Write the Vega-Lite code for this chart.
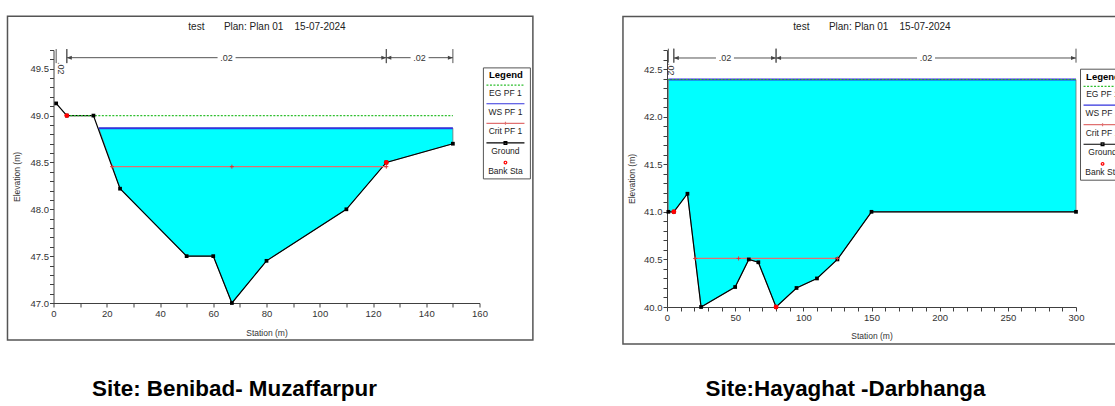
{
  "$schema": "https://vega.github.io/schema/vega-lite/v6.json",
  "padding": {"left": 6.5, "top": 15, "right": 0, "bottom": 0},
  "background": "white",
  "spacing": 87.5,
  "resolve": {
    "scale": {"color": "independent", "shape": "independent", "strokeDash": "independent"},
    "legend": {"color": "independent", "shape": "independent", "strokeDash": "independent"}
  },
  "config": {
    "view": {"stroke": null},
    "font": "Liberation Sans"
  },
  "datasets": {
    "legend_items": [
      {"series": "EG PF 1"}, {"series": "WS PF 1"}, {"series": "Crit PF 1"}, {"series": "Ground"}, {"series": "Bank Sta"}
    ],
    "left_ground": [
      {"station": 1, "elev": 49.13}, {"station": 5, "elev": 49.0}, {"station": 15, "elev": 49.0},
      {"station": 25, "elev": 48.22}, {"station": 50, "elev": 47.5}, {"station": 60, "elev": 47.5},
      {"station": 67, "elev": 47.0}, {"station": 80, "elev": 47.45}, {"station": 110, "elev": 48.0},
      {"station": 125, "elev": 48.5}, {"station": 150, "elev": 48.7}
    ],
    "left_water": [
      {"station": 17, "elev": 48.865}, {"station": 25, "elev": 48.22}, {"station": 50, "elev": 47.5},
      {"station": 60, "elev": 47.5}, {"station": 67, "elev": 47.0}, {"station": 80, "elev": 47.45},
      {"station": 110, "elev": 48.0}, {"station": 125, "elev": 48.5}, {"station": 150, "elev": 48.7}
    ],
    "left_profiles": [
      {"series": "WS PF 1", "from": 17, "to": 150, "elev": 48.865},
      {"series": "EG PF 1", "from": 5, "to": 150, "elev": 49.0},
      {"series": "Crit PF 1", "from": 22, "to": 125, "elev": 48.455}
    ],
    "left_crit": [
      {"station": 22, "elev": 48.455}, {"station": 67, "elev": 48.455}, {"station": 125, "elev": 48.455}
    ],
    "left_bank": [
      {"station": 5, "elev": 49.0}, {"station": 125, "elev": 48.5}
    ],
    "left_n": [
      {"id": 1, "from": 1, "to": 5, "n": ".02"},
      {"id": 2, "from": 5, "to": 125, "n": ".02"},
      {"id": 3, "from": 125, "to": 150, "n": ".02"}
    ],
    "right_ground": [
      {"station": 1, "elev": 41.0}, {"station": 5, "elev": 41.0}, {"station": 15, "elev": 41.19},
      {"station": 25, "elev": 40.0}, {"station": 50, "elev": 40.21}, {"station": 60, "elev": 40.5},
      {"station": 67, "elev": 40.47}, {"station": 80, "elev": 40.0}, {"station": 95, "elev": 40.2},
      {"station": 110, "elev": 40.3}, {"station": 125, "elev": 40.5}, {"station": 150, "elev": 41.0},
      {"station": 300, "elev": 41.0}
    ],
    "right_profiles": [
      {"series": "WS PF 1", "from": 1, "to": 300, "elev": 42.39},
      {"series": "EG PF 1", "from": 1, "to": 300, "elev": 42.39},
      {"series": "Crit PF 1", "from": 20.7, "to": 125, "elev": 40.51}
    ],
    "right_crit": [
      {"station": 20.7, "elev": 40.51}, {"station": 52.5, "elev": 40.51}, {"station": 125, "elev": 40.51}
    ],
    "right_bank": [
      {"station": 5, "elev": 41.0}, {"station": 80, "elev": 40.0}
    ],
    "right_n": [
      {"id": 1, "from": 1, "to": 5, "n": ".02"},
      {"id": 2, "from": 5, "to": 80, "n": ".02"},
      {"id": 3, "from": 80, "to": 300, "n": ".02"}
    ]
  },
  "hconcat": [
    {
      "width": 426,
      "height": 253,
      "title": {"text": "Site: Benibad- Muzaffarpur", "orient": "bottom", "anchor": "middle", "frame": "group", "dx": -32, "offset": 55, "baseline": "alphabetic", "fontSize": 22.4, "fontWeight": "bold", "font": "Liberation Sans", "color": "#000000"},
      "resolve": {"axis": {"x": "independent", "y": "independent"}},
      "layer": [
        {
          "data": {"name": "legend_items"},
          "mark": {"type": "point", "filled": false, "opacity": 0, "size": 4, "strokeWidth": 1.2},
          "encoding": {
            "x": {
              "datum": 80, "type": "quantitative",
              "axis": {"orient": "top", "domain": false, "ticks": false, "labels": false, "grid": false,
                "title": "test\u00a0\u00a0\u00a0\u00a0\u00a0\u00a0\u00a0Plan: Plan 01\u00a0\u00a0\u00a0\u00a015-07-2024",
                "titleY": -20.8, "titleBaseline": "alphabetic", "titleFontSize": 10, "titleFontWeight": "normal", "titleColor": "#222222"}
            },
            "color": {
              "field": "series", "type": "nominal",
              "scale": {"domain": ["EG PF 1", "WS PF 1", "Crit PF 1", "Ground", "Bank Sta"], "range": ["#2fbf2f", "#3333dd", "#e07070", "#000000", "#ff0000"]},
              "legend": {
                "orient": "none", "legendX": 429.4, "legendY": 17.4, "direction": "vertical",
                "title": "Legend", "titleFontSize": 9.5, "titleFontWeight": "bold", "titleAnchor": "middle", "titlePadding": 5, "titleColor": "#000000",
                "strokeColor": "#555555", "padding": 3,
                "symbolSize": 4, "symbolStrokeWidth": 1.2, "symbolOpacity": 1, "symbolOffset": 15.3,
                "labelAlign": "center", "labelBaseline": "top", "labelOffset": -4.3, "labelFontSize": 8.5, "labelColor": "#222222",
                "rowPadding": 2.6
              }
            },
            "shape": {
              "field": "series", "type": "nominal",
              "scale": {"domain": ["EG PF 1", "WS PF 1", "Crit PF 1", "Ground", "Bank Sta"],
                "range": ["M-19,-4H19", "M-19,-4H19", "M-19,-4H19M-1.5,-4H1.5M0,-5.5V-2.5", "M-19,-4H19M-1.4,-5.4H1.4V-2.6H-1.4Z", "M-1.3,-4A1.3,1.3,0,1,1,1.3,-4A1.3,1.3,0,1,1,-1.3,-4Z"]}
            },
            "strokeDash": {
              "field": "series", "type": "nominal",
              "scale": {"domain": ["EG PF 1", "WS PF 1", "Crit PF 1", "Ground", "Bank Sta"], "range": [[2, 1.5], [1, 0], [1, 0], [1, 0], [1, 0]]}
            }
          }
        },
        {
          "data": {"values": [{}]},
          "mark": {"type": "rect", "fill": null, "stroke": "#555555", "strokeWidth": 1.5},
          "encoding": {
            "x": {"datum": -17.28, "type": "quantitative", "axis": null},
            "x2": {"datum": 180.05},
            "y": {"datum": 50.059, "type": "quantitative", "axis": null},
            "y2": {"datum": 46.605}
          }
        },
        {
          "data": {"name": "left_water"},
          "mark": {"type": "area", "color": "#00ffff", "stroke": "#707070", "strokeWidth": 0.8, "opacity": 1},
          "encoding": {
            "x": {"field": "station", "type": "quantitative", "axis": null},
            "y": {"field": "elev", "type": "quantitative", "axis": null},
            "y2": {"datum": 48.865}
          }
        },
        {
          "data": {"name": "left_ground"},
          "mark": {"type": "line", "color": "#000000", "strokeWidth": 1.2},
          "encoding": {
            "x": {
              "field": "station", "type": "quantitative",
              "scale": {"domain": [0, 160], "nice": false, "zero": false},
              "axis": {
                "orient": "bottom", "values": [0, 10, 20, 30, 40, 50, 60, 70, 80, 90, 100, 110, 120, 130, 140, 150, 160],
                "format": "d", "labelExpr": "datum.value % 20 == 0 ? datum.label : ''",
                "grid": false, "tickSize": 4, "domainColor": "#404040", "tickColor": "#404040",
                "labelFontSize": 9.5, "labelColor": "#333333", "labelPadding": 1, "labelFlush": false, "labelOverlap": false,
                "title": "Station (m)", "titleFontSize": 8.5, "titleFontWeight": "normal", "titleColor": "#333333",
                "titleY": 29, "titleBaseline": "middle"
              }
            },
            "y": {
              "field": "elev", "type": "quantitative",
              "scale": {"domain": [47, 49.7], "nice": false, "zero": false},
              "axis": {
                "orient": "left",
                "values": [47.0, 47.1, 47.2, 47.3, 47.4, 47.5, 47.6, 47.7, 47.8, 47.9, 48.0, 48.1, 48.2, 48.3, 48.4, 48.5, 48.6, 48.7, 48.8, 48.9, 49.0, 49.1, 49.2, 49.3, 49.4, 49.5, 49.6, 49.7],
                "format": ".1f", "labelExpr": "round(datum.value * 10) % 5 == 0 ? datum.label : ''",
                "grid": false, "tickSize": 4, "domainColor": "#404040", "tickColor": "#404040",
                "labelFontSize": 9.5, "labelColor": "#333333", "labelPadding": 1, "labelFlush": false, "labelOverlap": false,
                "title": "Elevation (m)", "titleFontSize": 8.5, "titleFontWeight": "normal", "titleColor": "#333333",
                "titleX": -37, "titleBaseline": "middle"
              }
            }
          }
        },
        {
          "data": {"name": "left_profiles"},
          "mark": {"type": "rule"},
          "encoding": {
            "x": {"field": "from", "type": "quantitative", "axis": null},
            "x2": {"field": "to"},
            "y": {"field": "elev", "type": "quantitative", "axis": null},
            "color": {"field": "series", "type": "nominal", "scale": {"domain": ["EG PF 1", "WS PF 1", "Crit PF 1", "Ground", "Bank Sta"], "range": ["#2fbf2f", "#3333dd", "#e07070", "#000000", "#ff0000"]}},
            "strokeDash": {"field": "series", "type": "nominal", "scale": {"domain": ["EG PF 1", "WS PF 1", "Crit PF 1", "Ground", "Bank Sta"], "range": [[2, 1.5], [1, 0], [1, 0], [1, 0], [1, 0]]}},
            "strokeWidth": {"condition": {"test": "datum.series == 'WS PF 1'", "value": 2}, "value": 1.2}
          }
        },
        {
          "data": {"name": "left_ground"},
          "mark": {"type": "point", "shape": "square", "filled": true, "size": 14, "color": "#000000", "opacity": 1},
          "encoding": {
            "x": {"field": "station", "type": "quantitative", "axis": null},
            "y": {"field": "elev", "type": "quantitative", "axis": null}
          }
        },
        {
          "data": {"name": "left_crit"},
          "mark": {"type": "point", "shape": "M-2,0H2M0,-2V2", "filled": false, "size": 4, "color": "#e03030", "strokeWidth": 1, "opacity": 1},
          "encoding": {
            "x": {"field": "station", "type": "quantitative", "axis": null},
            "y": {"field": "elev", "type": "quantitative", "axis": null}
          }
        },
        {
          "data": {"name": "left_bank"},
          "mark": {"type": "point", "shape": "circle", "filled": true, "size": 24, "color": "#ff0000", "opacity": 1},
          "encoding": {
            "x": {"field": "station", "type": "quantitative", "axis": null},
            "y": {"field": "elev", "type": "quantitative", "axis": null}
          }
        },
        {
          "data": {"name": "left_n"},
          "layer": [
            {
              "mark": {"type": "rule", "color": "#555555", "strokeWidth": 1},
              "encoding": {
                "x": {"field": "from", "type": "quantitative", "axis": null},
                "y": {"datum": 49.56, "type": "quantitative", "axis": null},
                "y2": {"datum": 49.71}
              }
            },
            {
              "mark": {"type": "rule", "color": "#555555", "strokeWidth": 1},
              "encoding": {
                "x": {"field": "to", "type": "quantitative", "axis": null},
                "y": {"datum": 49.56, "type": "quantitative", "axis": null},
                "y2": {"datum": 49.71}
              }
            },
            {
              "transform": [{"filter": "datum.to - datum.from >= 10"}],
              "layer": [
                {
                  "mark": {"type": "rule", "color": "#555555", "strokeWidth": 1},
                  "encoding": {
                    "x": {"field": "from", "type": "quantitative", "axis": null},
                    "x2": {"field": "to"},
                    "y": {"datum": 49.618, "type": "quantitative", "axis": null}
                  }
                },
                {
                  "mark": {"type": "point", "shape": "M0,0L5,-2L5,2Z", "filled": true, "size": 4, "color": "#444444", "opacity": 1},
                  "encoding": {
                    "x": {"field": "from", "type": "quantitative", "axis": null},
                    "y": {"datum": 49.618, "type": "quantitative", "axis": null}
                  }
                },
                {
                  "mark": {"type": "point", "shape": "M0,0L-5,-2L-5,2Z", "filled": true, "size": 4, "color": "#444444", "opacity": 1},
                  "encoding": {
                    "x": {"field": "to", "type": "quantitative", "axis": null},
                    "y": {"datum": 49.618, "type": "quantitative", "axis": null}
                  }
                },
                {
                  "transform": [{"fold": ["from", "to"], "as": ["end", "station"]}],
                  "encoding": {
                    "x": {"aggregate": "mean", "field": "station", "type": "quantitative", "axis": null},
                    "y": {"datum": 49.618, "type": "quantitative", "axis": null},
                    "detail": {"field": "id", "type": "nominal"}
                  },
                  "layer": [
                    {"mark": {"type": "point", "shape": "M-9,-4.5H9V4.5H-9Z", "filled": true, "size": 4, "color": "#ffffff", "opacity": 1}},
                    {"mark": {"type": "text", "fontSize": 9, "color": "#333333", "baseline": "middle", "align": "center"}, "encoding": {"text": {"field": "n"}}}
                  ]
                }
              ]
            },
            {
              "transform": [{"filter": "datum.to - datum.from < 10"}, {"fold": ["from", "to"], "as": ["end", "station"]}],
              "mark": {"type": "text", "angle": 90, "fontSize": 9, "color": "#333333", "baseline": "middle", "align": "center"},
              "encoding": {
                "x": {"aggregate": "mean", "field": "station", "type": "quantitative", "axis": null},
                "y": {"datum": 49.504, "type": "quantitative", "axis": null},
                "detail": {"field": "id", "type": "nominal"},
                "text": {"field": "n"}
              }
            }
          ]
        }
      ]
    },
    {
      "width": 409,
      "height": 257,
      "title": {"text": "Site:Hayaghat -Darbhanga", "orient": "bottom", "anchor": "middle", "frame": "group", "dx": -26, "offset": 51, "baseline": "alphabetic", "fontSize": 22.4, "fontWeight": "bold", "font": "Liberation Sans", "color": "#000000"},
      "resolve": {"axis": {"x": "independent", "y": "independent"}},
      "layer": [
        {
          "data": {"name": "legend_items"},
          "mark": {"type": "point", "filled": false, "opacity": 0, "size": 4, "strokeWidth": 1.2},
          "encoding": {
            "x": {
              "datum": 150, "type": "quantitative",
              "axis": {"orient": "top", "domain": false, "ticks": false, "labels": false, "grid": false,
                "title": "test\u00a0\u00a0\u00a0\u00a0\u00a0\u00a0\u00a0Plan: Plan 01\u00a0\u00a0\u00a0\u00a015-07-2024",
                "titleY": -20.8, "titleBaseline": "alphabetic", "titleFontSize": 10, "titleFontWeight": "normal", "titleColor": "#222222"}
            },
            "color": {
              "field": "series", "type": "nominal",
              "scale": {"domain": ["EG PF 1", "WS PF 1", "Crit PF 1", "Ground", "Bank Sta"], "range": ["#2fbf2f", "#3333dd", "#e07070", "#000000", "#ff0000"]},
              "legend": {
                "orient": "none", "legendX": 413, "legendY": 18.7, "direction": "vertical",
                "title": "Legend", "titleFontSize": 9.5, "titleFontWeight": "bold", "titleAnchor": "middle", "titlePadding": 5, "titleColor": "#000000",
                "strokeColor": "#555555", "padding": 3,
                "symbolSize": 4, "symbolStrokeWidth": 1.2, "symbolOpacity": 1, "symbolOffset": 15.3,
                "labelAlign": "center", "labelBaseline": "top", "labelOffset": -4.3, "labelFontSize": 8.5, "labelColor": "#222222",
                "rowPadding": 2.6
              }
            },
            "shape": {
              "field": "series", "type": "nominal",
              "scale": {"domain": ["EG PF 1", "WS PF 1", "Crit PF 1", "Ground", "Bank Sta"],
                "range": ["M-19,-4H19", "M-19,-4H19", "M-19,-4H19M-1.5,-4H1.5M0,-5.5V-2.5", "M-19,-4H19M-1.4,-5.4H1.4V-2.6H-1.4Z", "M-1.3,-4A1.3,1.3,0,1,1,1.3,-4A1.3,1.3,0,1,1,-1.3,-4Z"]}
            },
            "strokeDash": {
              "field": "series", "type": "nominal",
              "scale": {"domain": ["EG PF 1", "WS PF 1", "Crit PF 1", "Ground", "Bank Sta"], "range": [[2, 1.5], [1, 0], [1, 0], [1, 0], [1, 0]]}
            }
          }
        },
        {
          "data": {"values": [{}]},
          "mark": {"type": "rect", "fill": null, "stroke": "#555555", "strokeWidth": 1.5},
          "encoding": {
            "x": {"datum": -32.3, "type": "quantitative", "axis": null},
            "x2": {"datum": 337.3},
            "y": {"datum": 43.053, "type": "quantitative", "axis": null},
            "y2": {"datum": 39.611}
          }
        },
        {
          "data": {"name": "right_ground"},
          "mark": {"type": "area", "color": "#00ffff", "stroke": "#707070", "strokeWidth": 0.8, "opacity": 1},
          "encoding": {
            "x": {"field": "station", "type": "quantitative", "axis": null},
            "y": {"field": "elev", "type": "quantitative", "axis": null},
            "y2": {"datum": 42.39}
          }
        },
        {
          "data": {"name": "right_ground"},
          "mark": {"type": "line", "color": "#000000", "strokeWidth": 1.2},
          "encoding": {
            "x": {
              "field": "station", "type": "quantitative",
              "scale": {"domain": [0, 300], "nice": false, "zero": false},
              "axis": {
                "orient": "bottom", "values": [0, 10, 20, 30, 40, 50, 60, 70, 80, 90, 100, 110, 120, 130, 140, 150, 160, 170, 180, 190, 200, 210, 220, 230, 240, 250, 260, 270, 280, 290, 300],
                "format": "d", "labelExpr": "datum.value % 50 == 0 ? datum.label : ''",
                "grid": false, "tickSize": 4, "domainColor": "#404040", "tickColor": "#404040",
                "labelFontSize": 9.5, "labelColor": "#333333", "labelPadding": 1, "labelFlush": false, "labelOverlap": false,
                "title": "Station (m)", "titleFontSize": 8.5, "titleFontWeight": "normal", "titleColor": "#333333",
                "titleY": 28.6, "titleBaseline": "middle"
              }
            },
            "y": {
              "field": "elev", "type": "quantitative",
              "scale": {"domain": [40, 42.7], "nice": false, "zero": false},
              "axis": {
                "orient": "left",
                "values": [40.0, 40.1, 40.2, 40.3, 40.4, 40.5, 40.6, 40.7, 40.8, 40.9, 41.0, 41.1, 41.2, 41.3, 41.4, 41.5, 41.6, 41.7, 41.8, 41.9, 42.0, 42.1, 42.2, 42.3, 42.4, 42.5, 42.6, 42.7],
                "format": ".1f", "labelExpr": "round(datum.value * 10) % 5 == 0 ? datum.label : ''",
                "grid": false, "tickSize": 4, "domainColor": "#404040", "tickColor": "#404040",
                "labelFontSize": 9.5, "labelColor": "#333333", "labelPadding": 1, "labelFlush": false, "labelOverlap": false,
                "title": "Elevation (m)", "titleFontSize": 8.5, "titleFontWeight": "normal", "titleColor": "#333333",
                "titleX": -35.7, "titleBaseline": "middle"
              }
            }
          }
        },
        {
          "data": {"name": "right_profiles"},
          "mark": {"type": "rule"},
          "encoding": {
            "x": {"field": "from", "type": "quantitative", "axis": null},
            "x2": {"field": "to"},
            "y": {"field": "elev", "type": "quantitative", "axis": null},
            "color": {"field": "series", "type": "nominal", "scale": {"domain": ["EG PF 1", "WS PF 1", "Crit PF 1", "Ground", "Bank Sta"], "range": ["#2fbf2f", "#3333dd", "#e07070", "#000000", "#ff0000"]}},
            "strokeDash": {"field": "series", "type": "nominal", "scale": {"domain": ["EG PF 1", "WS PF 1", "Crit PF 1", "Ground", "Bank Sta"], "range": [[2, 1.5], [1, 0], [1, 0], [1, 0], [1, 0]]}},
            "strokeWidth": {"condition": {"test": "datum.series == 'WS PF 1'", "value": 2}, "value": 1.2}
          }
        },
        {
          "data": {"name": "right_ground"},
          "mark": {"type": "point", "shape": "square", "filled": true, "size": 14, "color": "#000000", "opacity": 1},
          "encoding": {
            "x": {"field": "station", "type": "quantitative", "axis": null},
            "y": {"field": "elev", "type": "quantitative", "axis": null}
          }
        },
        {
          "data": {"name": "right_crit"},
          "mark": {"type": "point", "shape": "M-2,0H2M0,-2V2", "filled": false, "size": 4, "color": "#e03030", "strokeWidth": 1, "opacity": 1},
          "encoding": {
            "x": {"field": "station", "type": "quantitative", "axis": null},
            "y": {"field": "elev", "type": "quantitative", "axis": null}
          }
        },
        {
          "data": {"name": "right_bank"},
          "mark": {"type": "point", "shape": "circle", "filled": true, "size": 24, "color": "#ff0000", "opacity": 1},
          "encoding": {
            "x": {"field": "station", "type": "quantitative", "axis": null},
            "y": {"field": "elev", "type": "quantitative", "axis": null}
          }
        },
        {
          "data": {"name": "right_n"},
          "layer": [
            {
              "mark": {"type": "rule", "color": "#555555", "strokeWidth": 1},
              "encoding": {
                "x": {"field": "from", "type": "quantitative", "axis": null},
                "y": {"datum": 42.567, "type": "quantitative", "axis": null},
                "y2": {"datum": 42.714}
              }
            },
            {
              "mark": {"type": "rule", "color": "#555555", "strokeWidth": 1},
              "encoding": {
                "x": {"field": "to", "type": "quantitative", "axis": null},
                "y": {"datum": 42.567, "type": "quantitative", "axis": null},
                "y2": {"datum": 42.714}
              }
            },
            {
              "transform": [{"filter": "datum.to - datum.from >= 10"}],
              "layer": [
                {
                  "mark": {"type": "rule", "color": "#555555", "strokeWidth": 1},
                  "encoding": {
                    "x": {"field": "from", "type": "quantitative", "axis": null},
                    "x2": {"field": "to"},
                    "y": {"datum": 42.616, "type": "quantitative", "axis": null}
                  }
                },
                {
                  "mark": {"type": "point", "shape": "M0,0L5,-2L5,2Z", "filled": true, "size": 4, "color": "#444444", "opacity": 1},
                  "encoding": {
                    "x": {"field": "from", "type": "quantitative", "axis": null},
                    "y": {"datum": 42.616, "type": "quantitative", "axis": null}
                  }
                },
                {
                  "mark": {"type": "point", "shape": "M0,0L-5,-2L-5,2Z", "filled": true, "size": 4, "color": "#444444", "opacity": 1},
                  "encoding": {
                    "x": {"field": "to", "type": "quantitative", "axis": null},
                    "y": {"datum": 42.616, "type": "quantitative", "axis": null}
                  }
                },
                {
                  "transform": [{"fold": ["from", "to"], "as": ["end", "station"]}],
                  "encoding": {
                    "x": {"aggregate": "mean", "field": "station", "type": "quantitative", "axis": null},
                    "y": {"datum": 42.616, "type": "quantitative", "axis": null},
                    "detail": {"field": "id", "type": "nominal"}
                  },
                  "layer": [
                    {"mark": {"type": "point", "shape": "M-9,-4.5H9V4.5H-9Z", "filled": true, "size": 4, "color": "#ffffff", "opacity": 1}},
                    {"mark": {"type": "text", "fontSize": 9, "color": "#333333", "baseline": "middle", "align": "center"}, "encoding": {"text": {"field": "n"}}}
                  ]
                }
              ]
            },
            {
              "transform": [{"filter": "datum.to - datum.from < 10"}, {"fold": ["from", "to"], "as": ["end", "station"]}],
              "mark": {"type": "text", "angle": 90, "fontSize": 9, "color": "#333333", "baseline": "middle", "align": "center"},
              "encoding": {
                "x": {"aggregate": "mean", "field": "station", "type": "quantitative", "axis": null},
                "y": {"datum": 42.498, "type": "quantitative", "axis": null},
                "detail": {"field": "id", "type": "nominal"},
                "text": {"field": "n"}
              }
            }
          ]
        }
      ]
    }
  ]
}
